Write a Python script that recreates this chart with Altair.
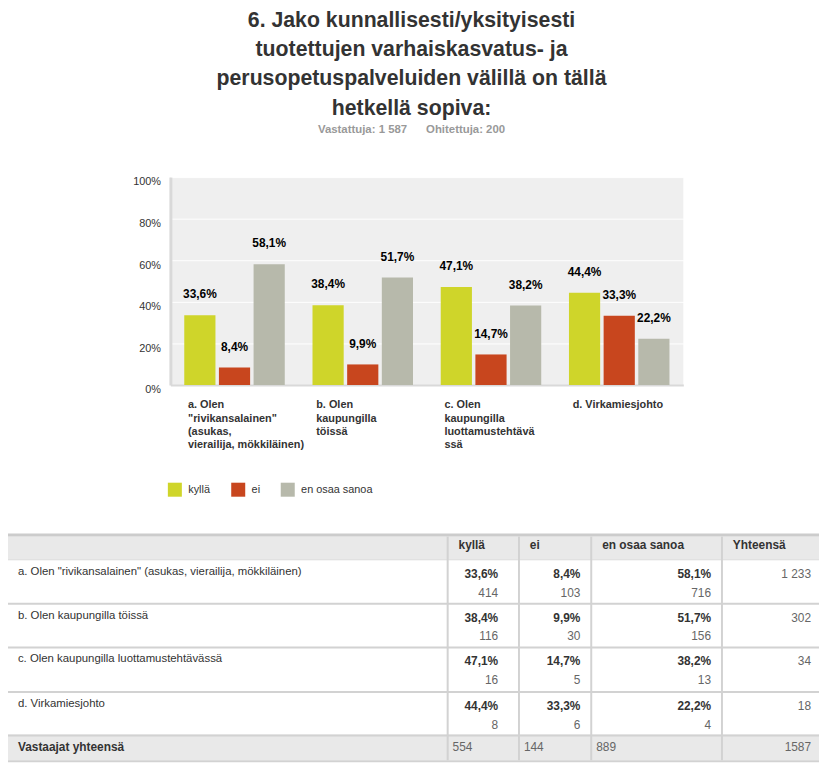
import altair as alt
import pandas as pd

# ---------------- data ----------------
categories = [
    'a. Olen "rivikansalainen" (asukas, vierailija, mökkiläinen)',
    'b. Olen kaupungilla töissä',
    'c. Olen kaupungilla luottamustehtävässä',
    'd. Virkamiesjohto',
]
category_axis_lines = [
    ['a. Olen', '"rivikansalainen"', '(asukas,', 'vierailija, mökkiläinen)'],
    ['b. Olen', 'kaupungilla', 'töissä'],
    ['c. Olen', 'kaupungilla', 'luottamustehtävä', 'ssä'],
    ['d. Virkamiesjohto'],
]
answers = ['kyllä', 'ei', 'en osaa sanoa']
pct_kylla = [33.6, 38.4, 47.1, 44.4]
pct_ei = [8.4, 9.9, 14.7, 33.3]
pct_eos = [58.1, 51.7, 38.2, 22.2]
n_kylla = [414, 116, 16, 8]
n_ei = [103, 30, 5, 6]
n_eos = [716, 156, 13, 4]
row_totals = [1233, 302, 34, 18]
answer_totals = [554, 144, 889]
grand_total = 1587
table_header = ['kyllä', 'ei', 'en osaa sanoa', 'Yhteensä']
footer_label = 'Vastaajat yhteensä'
title_lines = [
    '6. Jako kunnallisesti/yksityisesti',
    'tuotettujen varhaiskasvatus- ja',
    'perusopetuspalveluiden välillä on tällä',
    'hetkellä sopiva:',
]
subtitle_text = 'Vastattuja: 1 587\u00a0\u00a0\u00a0\u00a0\u00a0 Ohitettuja: 200'

# ---------------- style ----------------
colors = ['#CFD52A', '#C8461E', '#B7B9AB']
FONT = 'Liberation Sans'
TFONT = "'Liberation Sans Narrow', 'Liberation Sans', sans-serif"
DARK = '#333333'
GRAY = '#666666'
LINE = '#d2d2d2'
HEAD_BG = '#e9e9e9'


def fmt_pct(v):
    return f'{v:.1f}%'.replace('.', ',')


def fmt_int(n):
    return f'{n:,}'.replace(',', ' ')


pcts = [pct_kylla, pct_ei, pct_eos]
counts = [n_kylla, n_ei, n_eos]
cat_keys = ['|'.join(lines) for lines in category_axis_lines]

# ---------------- bar chart ----------------
bar_rows = []
for ci, key in enumerate(cat_keys):
    for ai, ans in enumerate(answers):
        v = pcts[ai][ci]
        bar_rows.append({'cat': key, 'answer': ans, 'value': v / 100.0, 'label': fmt_pct(v)})
bar_df = pd.DataFrame(bar_rows)

SPACER_W = 125

x_enc = alt.X('cat:N', sort=cat_keys,
              scale=alt.Scale(paddingInner=0, paddingOuter=0),
              axis=alt.Axis(title=None, labelExpr="split(datum.label, '|')",
                            labelAlign='left', labelBaseline='top', labelOffset=-47,
                            labelPadding=14, labelFontSize=11, labelFontWeight='bold',
                            labelColor=DARK, labelLineHeight=13.5, labelAngle=0,
                            ticks=False, domainColor='#d9d9d9', domainWidth=2,
                            labelOverlap=False, labelLimit=400))
xo_enc = alt.XOffset('answer:N', sort=answers,
                     scale=alt.Scale(paddingInner=0.1, paddingOuter=0.4))
y_enc = alt.Y('value:Q', scale=alt.Scale(domain=[0, 1], nice=False),
              axis=alt.Axis(title=None, values=[round(i * 0.1, 1) for i in range(11)],
                            labelExpr="round(datum.value * 10) % 2 === 0 ? format(datum.value, '.0%') : ''",
                            ticks=False, grid=True, gridColor='white', gridWidth=1,
                            domainColor='#d9d9d9', domainWidth=3, labelFontSize=11,
                            labelColor=DARK, labelPadding=10, labelOffset=5))

bars = alt.Chart(bar_df).mark_bar().encode(
    x=x_enc, xOffset=xo_enc, y=y_enc,
    color=alt.Color('answer:N', sort=answers,
                    scale=alt.Scale(domain=answers, range=colors),
                    legend=alt.Legend(orient='none', legendX=SPACER_W + 36, legendY=308,
                                      direction='horizontal', title=None,
                                      symbolType='square', symbolSize=200,
                                      symbolStrokeWidth=0, labelFontSize=11,
                                      labelColor=DARK, columnPadding=20,
                                      labelOffset=6)),
)
bar_labels = alt.Chart(bar_df).mark_text(
    dy=-21, fontSize=12, fontWeight='bold', color='#000', baseline='middle'
).encode(x=alt.X('cat:N', sort=cat_keys), xOffset=alt.XOffset('answer:N', sort=answers),
         y='value:Q', text='label:N')

bar_chart = alt.layer(bars, bar_labels).properties(
    width=518, height=210,
    view=alt.ViewBackground(fill='#efefef', stroke=None),
)

spacer = alt.Chart(pd.DataFrame({'s': [0]})).mark_point(opacity=0, size=0).encode(
    x=alt.value(20), y=alt.value(5)
).properties(width=SPACER_W, height=10, view=alt.ViewBackground(stroke=None))

# ---------------- table ----------------
X0, X1 = 8, 827
col_edges = [0, 452, 524, 597, 729, 827]
T_TOP = 530
head_h, row_h, foot_h = 26, [44, 44, 45, 44], 26
edges = [T_TOP, T_TOP + head_h]
for h in row_h:
    edges.append(edges[-1] + h)
edges.append(edges[-1] + foot_h)
T_BOT = edges[-1] + 2

rects = []
rects.append({'x': X0, 'x2': X1, 'y': T_TOP + 3, 'y2': edges[1], 'fill': HEAD_BG})
rects.append({'x': X0, 'x2': X1, 'y': edges[5], 'y2': edges[6], 'fill': HEAD_BG})
rects.append({'x': X0, 'x2': X1, 'y': T_TOP, 'y2': T_TOP + 3, 'fill': '#cccccc'})
rects.append({'x': X0, 'x2': X1, 'y': edges[1], 'y2': edges[1] + 1, 'fill': '#d8d8d8'})
for e in edges[2:6]:
    rects.append({'x': X0, 'x2': X1, 'y': e, 'y2': e + 2, 'fill': LINE})
rects.append({'x': X0, 'x2': X1, 'y': edges[6], 'y2': edges[6] + 2, 'fill': LINE})
for cx in col_edges[1:5]:
    rects.append({'x': cx - 1, 'x2': cx + 1, 'y': T_TOP + 3, 'y2': edges[6], 'fill': LINE})
rect_df = pd.DataFrame(rects)

xs = alt.Scale(domain=[X0, X1], nice=False, zero=False)
ys = alt.Scale(domain=[T_TOP, T_BOT], nice=False, zero=False, reverse=True)

table_rects = alt.Chart(rect_df).mark_rect().encode(
    x=alt.X('x:Q', scale=xs, axis=None), x2='x2:Q',
    y=alt.Y('y:Q', scale=ys, axis=None), y2='y2:Q',
    color=alt.Color('fill:N', scale=None),
)

left_bold = [{'x': col_edges[i + 1] + 11, 'y': T_TOP + 12, 't': h} for i, h in enumerate(table_header)]
left_bold.append({'x': 18, 'y': edges[5] + 13, 't': footer_label})
left_norm = [{'x': 18, 'y': edges[1 + i] + 13, 't': c} for i, c in enumerate(categories)]
pct_right = [col_edges[1] + 51, col_edges[2] + 62, col_edges[3] + 121]
right_bold, right_gray, left_gray = [], [], []
for ci in range(len(categories)):
    top = edges[1 + ci]
    for ai in range(3):
        right_bold.append({'x': pct_right[ai], 'y': top + 15, 't': fmt_pct(pcts[ai][ci])})
        right_gray.append({'x': pct_right[ai], 'y': top + 34, 't': str(counts[ai][ci])})
    right_gray.append({'x': 819, 'y': top + 15, 't': fmt_int(row_totals[ci])})
for ai in range(3):
    left_gray.append({'x': col_edges[ai + 1] + 5, 'y': edges[5] + 13, 't': str(answer_totals[ai])})
right_gray.append({'x': 819, 'y': edges[5] + 13, 't': str(grand_total)})


def text_layer(rows, align, weight, color, size=12):
    return alt.Chart(pd.DataFrame(rows)).mark_text(
        align=align, baseline='middle', fontWeight=weight, color=color,
        fontSize=size, font=TFONT
    ).encode(x=alt.X('x:Q', scale=xs, axis=None), y=alt.Y('y:Q', scale=ys, axis=None), text='t:N')


table = alt.layer(
    table_rects,
    text_layer(left_bold, 'left', 'bold', DARK),
    text_layer(left_norm, 'left', 'normal', DARK, 11.5),
    text_layer(right_bold, 'right', 'bold', DARK),
    text_layer(right_gray, 'right', 'normal', GRAY),
    text_layer(left_gray, 'left', 'normal', GRAY),
).properties(width=X1 - X0, height=T_BOT - T_TOP)

# ---------------- compose ----------------
chart = alt.vconcat(
    alt.hconcat(spacer, bar_chart, spacing=0),
    table,
    spacing=84,
).properties(
    padding={'top': -2, 'left': 0, 'right': 0, 'bottom': 0},
    title=alt.Title(text=title_lines, subtitle=[subtitle_text], anchor='middle',
                    fontSize=21.5, lineHeight=29.5, font=FONT, fontWeight='bold',
                    color=DARK, subtitleFont=FONT, subtitleFontSize=11.5,
                    subtitleColor='#999999', subtitleFontWeight='bold',
                    subtitlePadding=5, offset=41, dx=-2),
).configure(font=FONT, view=alt.ViewConfig(stroke=None))

chart.save('out.html', embed_options={'renderer': 'svg', 'actions': False})
